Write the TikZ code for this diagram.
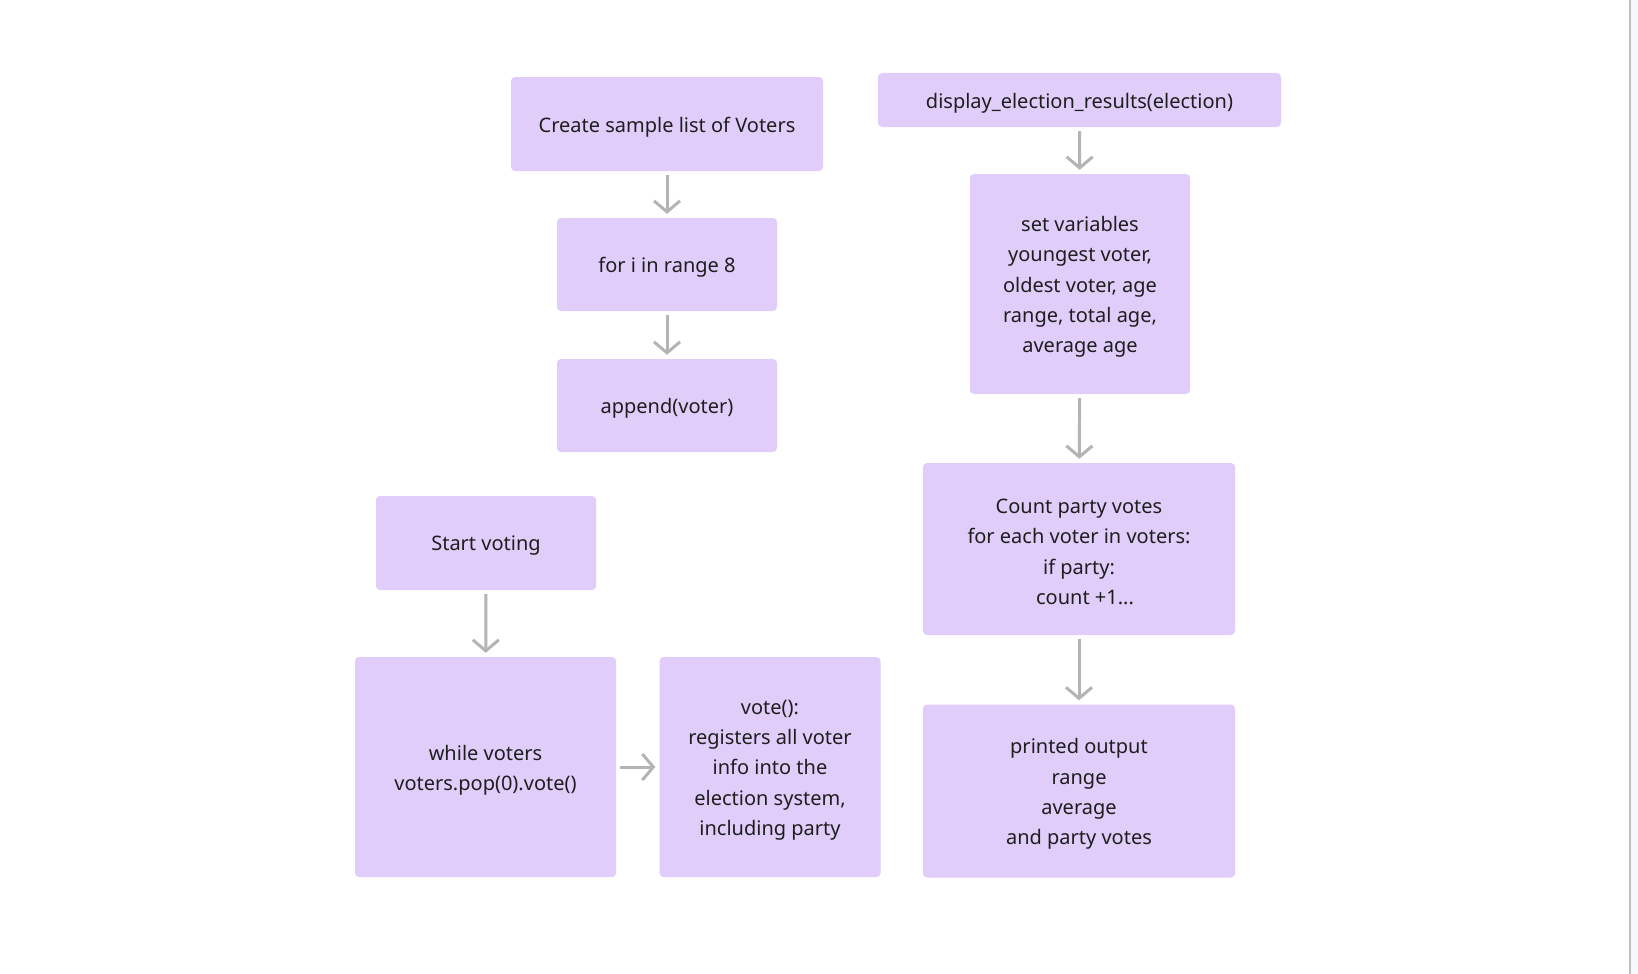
\documentclass[tikz,border=0pt]{standalone}
\usepackage{fontspec}
\setmainfont{Noto Sans}
\usetikzlibrary{arrows.meta}
\definecolor{boxfill}{HTML}{E1CDFA}
\definecolor{arrowgrey}{HTML}{B4B4B4}
\definecolor{inktext}{HTML}{1E1E1E}
\definecolor{edgegrey}{HTML}{BDBDBD}
\definecolor{stripfill}{HTML}{F7F8FB}
\tikzset{
  stepbox/.style={draw=none, fill=boxfill, rounded corners=4pt, inner sep=0pt},
  steptext/.style={inner sep=0pt, align=center, text=inktext,
    font=\fontsize{20}{30.3}\selectfont},
  flow/.style={draw=arrowgrey, line width=3pt,
    -{Straight Barb[length=11pt, width=26pt, line width=3pt]},
    shorten <=4pt, shorten >=4pt}
}
\begin{document}
\begin{tikzpicture}[x=1pt, y=-1pt]
  % canvas and right-hand border
  \fill[white] (0,0) rectangle (1638,974);
  \useasboundingbox (0,0) rectangle (1638,974);
  \fill[stripfill] (1631,0) rectangle (1638,974);
  \draw[edgegrey, line width=2pt] (1630,0) -- (1630,974);

  % left column: building the voter list
  \node[stepbox, minimum width=312pt, minimum height=94pt] (create) at (667,124) {};
  \node[stepbox, minimum width=220pt, minimum height=93pt] (loop) at (667,264.5) {};
  \node[stepbox, minimum width=220pt, minimum height=93pt] (append) at (667,405.5) {};

  % voting
  \node[stepbox, minimum width=220pt, minimum height=94pt] (start) at (486,543) {};
  \node[stepbox, minimum width=261pt, minimum height=220pt] (while) at (485.5,767) {};
  \node[stepbox, minimum width=221pt, minimum height=220pt] (vote) at (770,767) {};

  % right column: results
  \node[stepbox, minimum width=403pt, minimum height=54pt] (display) at (1079.5,100) {};
  \node[stepbox, minimum width=220pt, minimum height=220pt] (vars) at (1080,284) {};
  \node[stepbox, minimum width=312pt, minimum height=172pt] (count) at (1079,549) {};
  \node[stepbox, minimum width=312pt, minimum height=173pt] (output) at (1079,791) {};

  % box captions, set a little below the geometric centre
  \node[steptext] (createT) at ([yshift=-3pt]create.center) {Create sample list of Voters};
  \node[steptext] (loopT) at ([yshift=-3pt]loop.center) {for i in range 8};
  \node[steptext] (appendT) at ([yshift=-3pt]append.center) {append(voter)};
  \node[steptext] (startT) at ([yshift=-3pt]start.center) {Start voting};
  \node[steptext] (whileT) at ([yshift=-3pt]while.center) {while voters\\voters.pop(0).vote()};
  \node[steptext] (voteT) at ([yshift=-3pt]vote.center) {vote():\\registers all voter\\info into the\\election system,\\including party};
  \node[steptext] (displayT) at ([yshift=-3pt]display.center) {display\_election\_results(election)};
  \node[steptext] (varsT) at ([yshift=-3pt]vars.center) {set variables\\youngest voter,\\oldest voter, age\\range, total age,\\average age};
  \node[steptext] (countT) at ([yshift=-3pt]count.center) {Count party votes\\for each voter in voters:\\if party:\\\hspace*{12pt}count +1...};
  \node[steptext] (outputT) at ([yshift=-3pt]output.center) {printed output\\range\\average\\and party votes};

  % connectors
  \draw[flow] (create) -- (loop);
  \draw[flow] (loop) -- (append);
  \draw[flow] (start) -- (while);
  \draw[flow] (while) -- (vote);
  \draw[flow] (display) -- (vars);
  \draw[flow] (vars) -- (count);
  \draw[flow] (count) -- (output);
\end{tikzpicture}
\end{document}
